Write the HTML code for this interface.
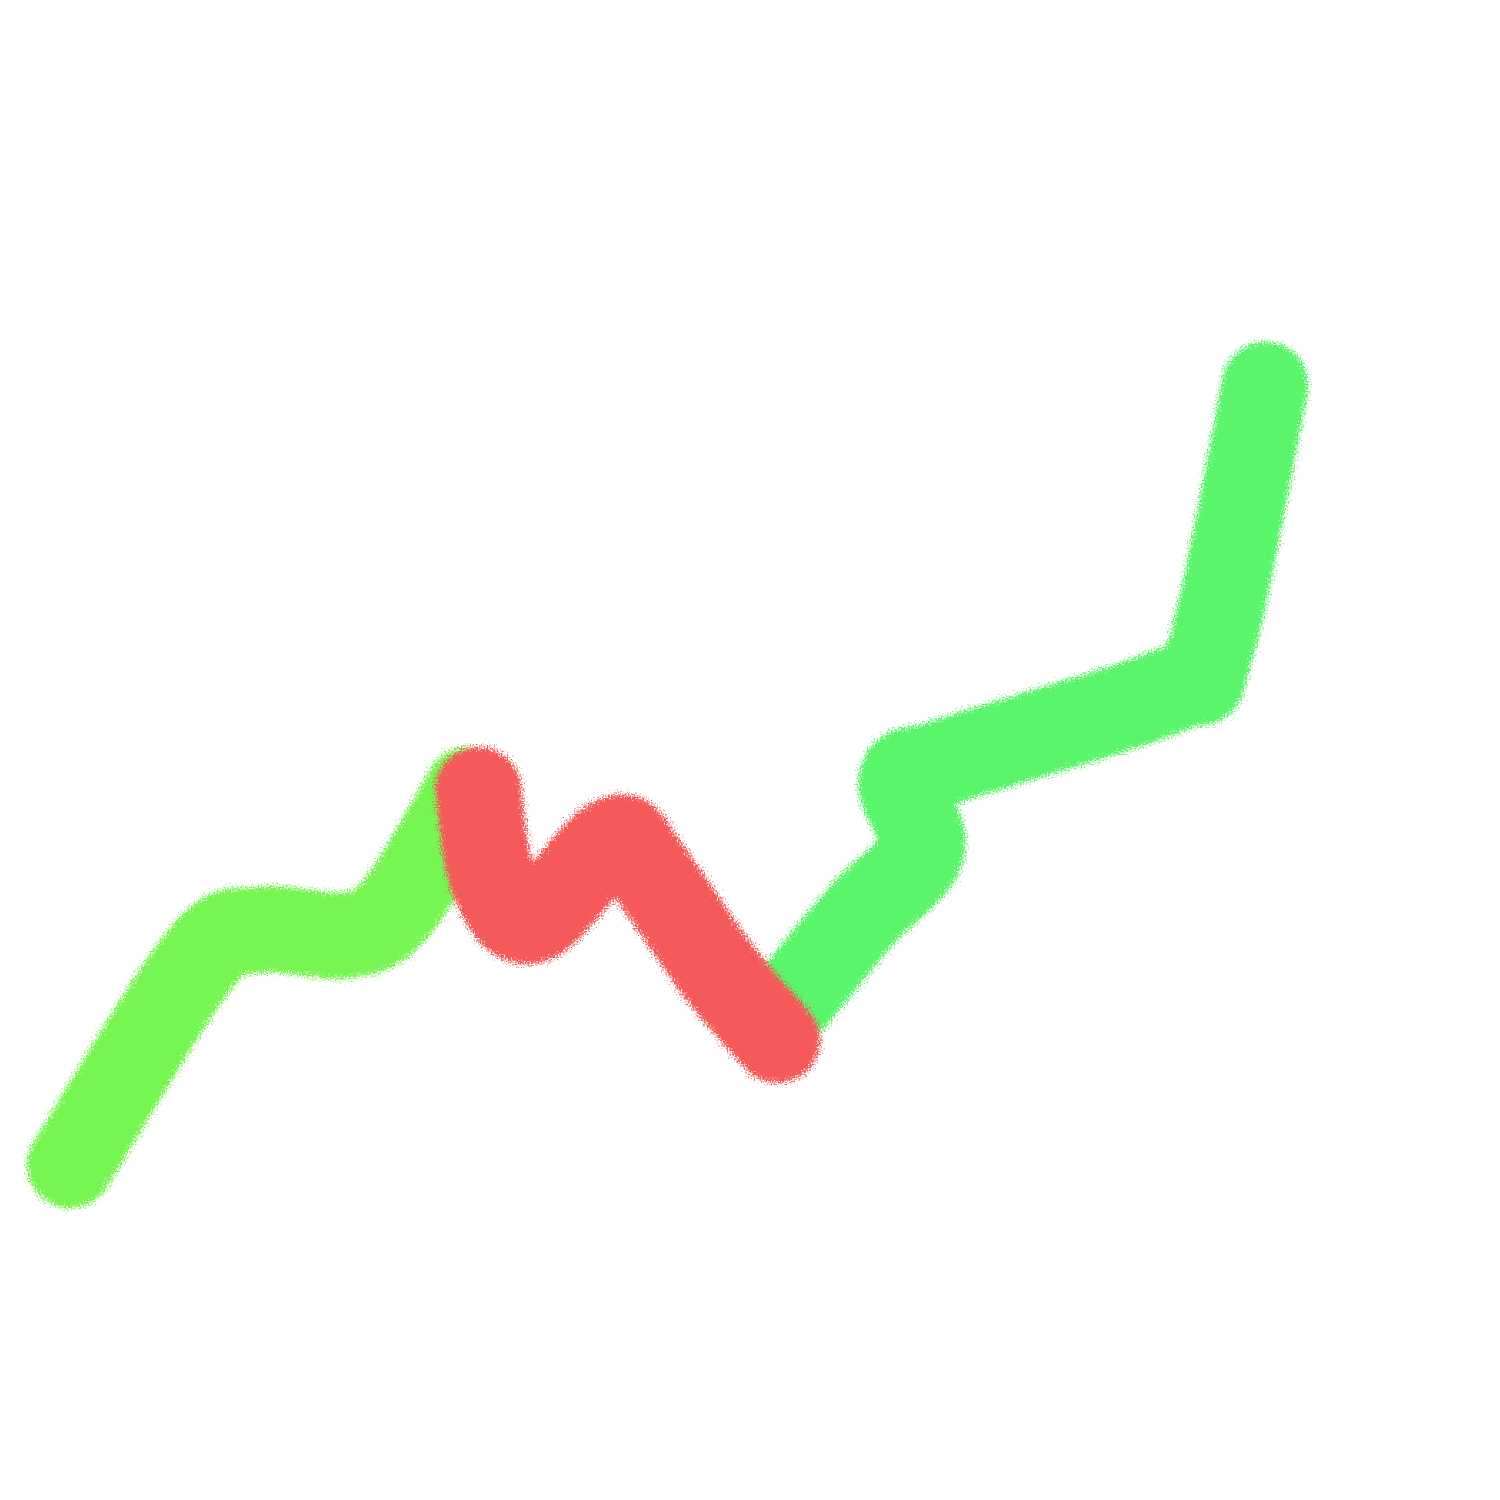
<!DOCTYPE html>
<html><head><meta charset="utf-8"><style>
html,body{margin:0;padding:0;background:#fff;}
svg{display:block;}
</style></head><body>
<svg id="chart" width="1500" height="1500" viewBox="0 0 1500 1500" xmlns="http://www.w3.org/2000/svg">
<defs>
<filter id="rough" x="-10%" y="-10%" width="120%" height="120%">
<feTurbulence type="fractalNoise" baseFrequency="0.7" numOctaves="2" seed="3" result="n"/>
<feDisplacementMap in="SourceGraphic" in2="n" scale="22" xChannelSelector="R" yChannelSelector="G"/>
</filter>
</defs>
<g id="series" filter="url(#rough)"></g>
</svg>
<script>
const seg1X = [0, 2.6, 3.8, 5.6, 6.6, 8.0];
const seg1Y = [13.5, 34, 37, 36.5, 39.5, 51];
const seg2X = [8.2, 8.5, 9.3, 10.9, 11.6, 13, 14.2];
const seg2Y = [51, 42, 38, 46, 43, 33, 26];
const seg3X = [14.5, 15.9, 17.1, 16.7, 17.7, 22.1, 22.9, 24];
const seg3Y = [30, 38.5, 45, 52, 54, 61, 65, 91.5];

function xs(v){ return 70 + v * 49.8; }
function ys(v){ return 1300 - v * 10; }

function pathFor(X, Y){
  const p = X.map((x,i)=>[xs(x), ys(Y[i])]);
  let d = 'M' + p[0][0] + ',' + p[0][1];
  for (let i=0;i<p.length-1;i++){
    const p0=p[i-1]||p[i], p1=p[i], p2=p[i+1], p3=p[i+2]||p2;
    const c1=[p1[0]+(p2[0]-p0[0])/6, p1[1]+(p2[1]-p0[1])/6];
    const c2=[p2[0]-(p3[0]-p1[0])/6, p2[1]-(p3[1]-p1[1])/6];
    d += ' C'+c1[0]+','+c1[1]+' '+c2[0]+','+c2[1]+' '+p2[0]+','+p2[1];
  }
  return d;
}
const g = document.getElementById('series');
function addSeg(X, Y, color, name){
  const el = document.createElementNS('http://www.w3.org/2000/svg','path');
  el.setAttribute('d', pathFor(X, Y));
  el.setAttribute('fill','none');
  el.setAttribute('stroke', color);
  el.setAttribute('stroke-width','86');
  el.setAttribute('stroke-linecap','round');
  el.setAttribute('stroke-linejoin','round');
  
  
  g.appendChild(el);
}
addSeg(seg1X, seg1Y, '#77f552', 'rising-segment-1');
addSeg(seg3X, seg3Y, '#5af56a', 'rising-segment-2');
addSeg(seg2X, seg2Y, '#f55a5a', 'falling-segment');
</script>
</body></html>
